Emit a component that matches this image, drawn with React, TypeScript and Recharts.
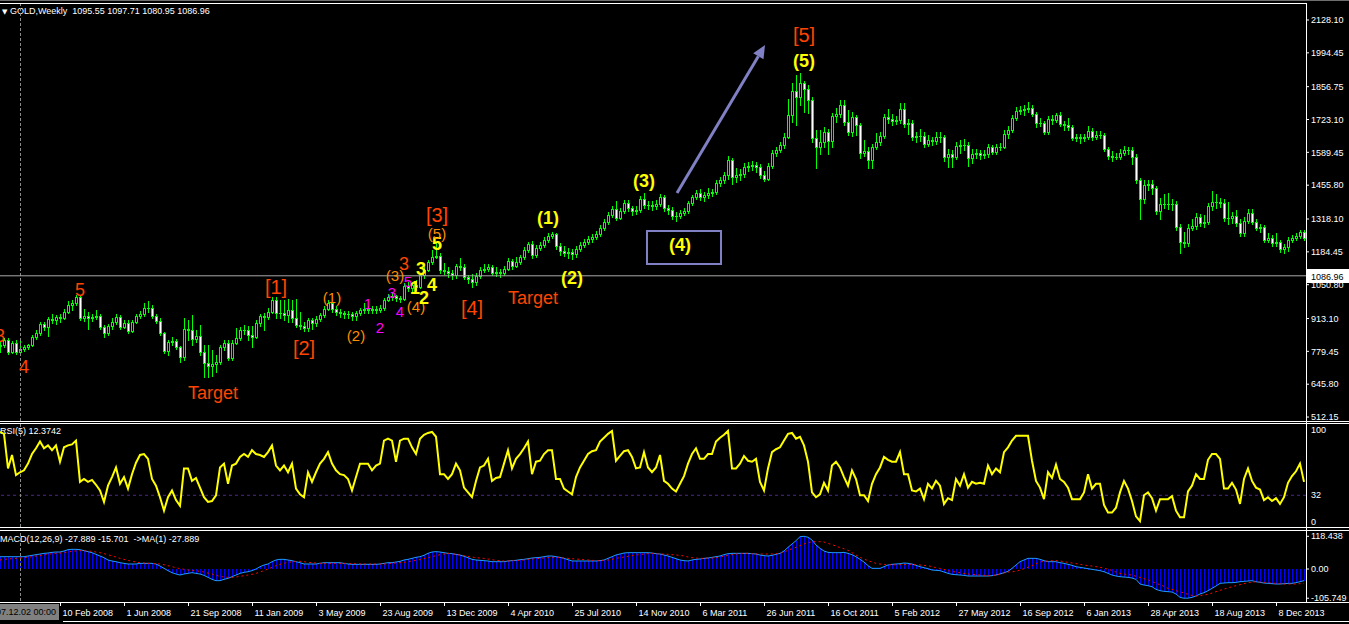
import { Bar, ComposedChart, Line, ReferenceArea, ReferenceDot, ReferenceLine, XAxis, YAxis } from "recharts";

const FONT = '"Liberation Sans", Arial, sans-serif';
const GREEN = '#00ff00';
const RED = '#ff4500';
const ORANGE = '#ff8c00';
const YELLOW = '#ffff00';
const MAGENTA = '#ff00ff';
const BOX = '#8080c4';

// weekly GOLD bars, first bar 2007-10-28
const firstOpen = 800;
const closes = [
  805, 826, 777, 813, 777, 789, 797, 805, 838, 854,
  891, 879, 911, 907, 919, 915, 940, 968, 976, 1001,
  915, 923, 915, 919, 923, 879, 854, 883, 899, 919,
  879, 895, 862, 899, 923, 932, 956, 956, 923, 903,
  854, 781, 818, 822, 797, 757, 870, 866, 830, 842,
  777, 732, 720, 728, 736, 797, 813, 752, 813, 834,
  866, 866, 846, 838, 895, 923, 919, 940, 989, 936,
  936, 927, 948, 915, 887, 883, 875, 907, 895, 911,
  927, 952, 976, 952, 940, 936, 932, 932, 923, 936,
  948, 952, 948, 952, 948, 956, 989, 1001, 1005, 997,
  993, 1045, 1037, 1050, 1041, 1090, 1111, 1143, 1164, 1168,
  1111, 1107, 1098, 1090, 1127, 1123, 1082, 1074, 1062, 1086,
  1111, 1115, 1123, 1098, 1102, 1098, 1115, 1147, 1127, 1143,
  1164, 1192, 1216, 1172, 1200, 1212, 1233, 1249, 1257, 1208,
  1188, 1180, 1184, 1176, 1196, 1212, 1225, 1237, 1245, 1257,
  1282, 1306, 1334, 1359, 1322, 1351, 1383, 1363, 1351, 1355,
  1400, 1375, 1375, 1371, 1379, 1408, 1363, 1355, 1330, 1330,
  1343, 1351, 1383, 1408, 1424, 1408, 1416, 1424, 1428, 1465,
  1477, 1497, 1558, 1489, 1497, 1501, 1530, 1534, 1538, 1530,
  1497, 1481, 1534, 1587, 1599, 1619, 1652, 1741, 1839, 1815,
  1872, 1847, 1802, 1648, 1611, 1632, 1672, 1636, 1737, 1746,
  1782, 1713, 1672, 1733, 1701, 1587, 1595, 1558, 1611, 1632,
  1656, 1733, 1725, 1717, 1721, 1766, 1705, 1709, 1652, 1656,
  1656, 1623, 1640, 1636, 1652, 1652, 1571, 1583, 1571, 1615,
  1619, 1619, 1566, 1583, 1587, 1579, 1583, 1611, 1591, 1611,
  1611, 1664, 1680, 1729, 1758, 1762, 1766, 1770, 1746, 1709,
  1709, 1672, 1725, 1721, 1741, 1705, 1701, 1693, 1648, 1652,
  1648, 1652, 1676, 1652, 1660, 1660, 1603, 1575, 1571, 1571,
  1587, 1599, 1599, 1571, 1477, 1400, 1457, 1461, 1444, 1351,
  1379, 1379, 1379, 1379, 1286, 1225, 1220, 1282, 1290, 1326,
  1302, 1306, 1371, 1387, 1387, 1383, 1322, 1322, 1330, 1302,
  1261, 1310, 1343, 1306, 1282, 1286, 1233, 1241, 1220, 1225,
  1196, 1204, 1233, 1241, 1249, 1265, 1241,
];
const highs = [
  818, 834, 834, 822, 826, 834, 805, 811, 846, 866,
  899, 899, 919, 932, 927, 932, 952, 985, 989, 1010,
  1010, 952, 940, 932, 948, 932, 887, 891, 915, 932,
  927, 907, 907, 907, 932, 944, 976, 985, 968, 932,
  915, 858, 826, 838, 830, 801, 915, 907, 927, 866,
  887, 805, 805, 785, 765, 805, 826, 826, 826, 875,
  879, 887, 883, 883, 907, 932, 936, 956, 1001, 1001,
  989, 989, 993, 989, 993, 940, 899, 915, 915, 923,
  936, 964, 989, 980, 964, 952, 944, 944, 940, 944,
  956, 976, 964, 964, 964, 968, 997, 1014, 1022, 1010,
  1005, 1058, 1062, 1062, 1070, 1098, 1123, 1152, 1192, 1226,
  1180, 1139, 1123, 1111, 1135, 1160, 1135, 1090, 1094, 1098,
  1123, 1135, 1135, 1131, 1123, 1115, 1127, 1160, 1156, 1164,
  1172, 1204, 1225, 1229, 1212, 1225, 1245, 1261, 1265, 1261,
  1220, 1208, 1200, 1196, 1208, 1225, 1237, 1249, 1257, 1269,
  1294, 1318, 1347, 1371, 1391, 1363, 1395, 1395, 1371, 1371,
  1412, 1424, 1391, 1391, 1395, 1420, 1416, 1375, 1367, 1347,
  1355, 1363, 1391, 1416, 1436, 1440, 1428, 1444, 1440, 1477,
  1489, 1509, 1575, 1566, 1526, 1522, 1546, 1550, 1554, 1550,
  1542, 1513, 1546, 1599, 1611, 1632, 1668, 1806, 1872, 1904,
  1912, 1880, 1864, 1815, 1680, 1680, 1693, 1685, 1750, 1770,
  1802, 1802, 1762, 1754, 1741, 1709, 1640, 1611, 1623, 1668,
  1672, 1745, 1766, 1745, 1737, 1790, 1790, 1725, 1721, 1672,
  1685, 1672, 1660, 1652, 1672, 1672, 1660, 1603, 1599, 1632,
  1640, 1644, 1632, 1603, 1603, 1599, 1599, 1623, 1619, 1623,
  1627, 1680, 1697, 1741, 1775, 1778, 1782, 1795, 1782, 1754,
  1729, 1717, 1737, 1741, 1750, 1754, 1717, 1729, 1701, 1664,
  1664, 1664, 1697, 1689, 1676, 1676, 1668, 1611, 1595, 1587,
  1603, 1615, 1611, 1611, 1583, 1485, 1477, 1477, 1477, 1453,
  1404, 1420, 1424, 1400, 1391, 1298, 1265, 1298, 1318, 1343,
  1338, 1334, 1383, 1433, 1420, 1404, 1400, 1387, 1347, 1355,
  1318, 1326, 1359, 1359, 1318, 1298, 1294, 1261, 1255, 1261,
  1233, 1216, 1245, 1255, 1261, 1273, 1273,
];
const lows = [
  775, 797, 770, 773, 770, 772, 781, 789, 801, 830,
  846, 866, 842, 895, 891, 899, 911, 936, 948, 968,
  907, 903, 870, 903, 911, 870, 838, 846, 870, 891,
  870, 875, 854, 858, 895, 915, 923, 940, 915, 895,
  846, 773, 765, 805, 789, 736, 744, 826, 805, 818,
  765, 675, 675, 679, 695, 728, 785, 744, 744, 809,
  826, 850, 826, 797, 834, 883, 866, 911, 936, 915,
  915, 907, 899, 899, 879, 870, 862, 862, 870, 883,
  903, 919, 948, 940, 927, 919, 915, 915, 907, 907,
  927, 936, 936, 936, 936, 940, 948, 985, 989, 985,
  980, 989, 1026, 1026, 1030, 1037, 1078, 1107, 1135, 1160,
  1098, 1094, 1082, 1074, 1078, 1111, 1074, 1058, 1041, 1050,
  1078, 1102, 1107, 1090, 1086, 1082, 1090, 1111, 1115, 1123,
  1135, 1156, 1184, 1160, 1164, 1192, 1204, 1225, 1241, 1196,
  1172, 1168, 1160, 1156, 1164, 1188, 1204, 1216, 1225, 1237,
  1249, 1273, 1298, 1326, 1314, 1318, 1343, 1351, 1334, 1338,
  1347, 1363, 1359, 1355, 1359, 1371, 1351, 1338, 1318, 1310,
  1322, 1334, 1343, 1375, 1400, 1395, 1391, 1404, 1412, 1420,
  1453, 1465, 1481, 1461, 1469, 1477, 1489, 1513, 1517, 1509,
  1485, 1473, 1477, 1526, 1575, 1591, 1607, 1648, 1713, 1701,
  1782, 1754, 1750, 1632, 1526, 1583, 1611, 1583, 1611, 1713,
  1733, 1701, 1660, 1656, 1660, 1566, 1575, 1526, 1526, 1603,
  1619, 1648, 1709, 1701, 1705, 1709, 1693, 1664, 1640, 1632,
  1636, 1611, 1615, 1619, 1623, 1632, 1554, 1530, 1530, 1562,
  1587, 1599, 1534, 1546, 1566, 1562, 1566, 1571, 1583, 1583,
  1599, 1607, 1648, 1672, 1721, 1746, 1741, 1754, 1737, 1693,
  1697, 1664, 1664, 1705, 1713, 1697, 1680, 1680, 1640, 1636,
  1627, 1636, 1644, 1640, 1644, 1648, 1595, 1562, 1554, 1562,
  1562, 1579, 1583, 1542, 1465, 1318, 1383, 1436, 1420, 1338,
  1318, 1363, 1359, 1355, 1273, 1180, 1204, 1208, 1273, 1278,
  1290, 1286, 1298, 1355, 1363, 1367, 1310, 1298, 1302, 1290,
  1249, 1249, 1302, 1298, 1273, 1265, 1225, 1225, 1208, 1208,
  1184, 1180, 1188, 1225, 1233, 1241, 1233,
];
const rsi5 = [
  98, 96, 60, 74, 53, 56, 58, 65, 75, 81,
  88, 81, 84, 79, 84, 67, 82, 84, 85, 89,
  46, 49, 46, 48, 43, 37, 25, 42, 51, 61,
  44, 51, 39, 54, 66, 74, 75, 70, 49, 42,
  30, 16, 30, 37, 27, 21, 60, 60, 47, 50,
  40, 30, 25, 26, 32, 61, 65, 44, 63, 65,
  72, 75, 72, 79, 75, 74, 72, 77, 84, 63,
  58, 63, 56, 65, 39, 33, 30, 56, 46, 56,
  65, 70, 77, 65, 58, 54, 53, 49, 37, 51,
  65, 65, 65, 58, 63, 65, 89, 91, 89, 67,
  89, 91, 91, 82, 75, 91, 95, 97, 98, 93,
  54, 54, 49, 54, 65, 58, 40, 35, 30, 47,
  61, 63, 70, 47, 50, 51, 65, 79, 60, 70,
  75, 81, 88, 54, 67, 68, 75, 79, 79, 49,
  49, 39, 36, 33, 51, 61, 68, 75, 78, 79,
  88, 92, 96, 99, 68, 73, 78, 79, 72, 60,
  61, 77, 61, 56, 61, 74, 47, 44, 39, 36,
  44, 52, 65, 75, 81, 70, 70, 75, 75, 88,
  92, 95, 99, 60, 60, 65, 73, 68, 67, 70,
  46, 37, 60, 77, 80, 82, 89, 96, 97, 91,
  93, 84, 67, 35, 30, 33, 45, 37, 63, 67,
  61, 51, 42, 58, 49, 32, 32, 26, 44, 54,
  61, 72, 69, 67, 67, 77, 54, 54, 37, 36,
  39, 28, 44, 39, 47, 42, 23, 29, 27, 49,
  42, 54, 40, 46, 44, 45, 44, 63, 54, 60,
  56, 77, 82, 89, 94, 94, 94, 94, 68, 47,
  40, 28, 56, 50, 64, 49, 46, 40, 28, 28,
  28, 35, 54, 39, 44, 44, 22, 14, 14, 19,
  35, 47, 39, 26, 10, 5, 32, 35, 29, 16,
  28, 28, 28, 31, 16, 9, 9, 36, 42, 54,
  49, 49, 69, 75, 75, 70, 39, 39, 45, 38,
  23, 49, 60, 47, 40, 38, 27, 30, 26, 29,
  23, 30, 45, 52, 57, 65, 46,
];
const macdMain = [
  44.6, 44.6, 44.6, 44.6, 44.6, 44.6, 44.6, 47.1, 49.5, 51.9,
  54.3, 56.7, 57.9, 60.3, 61.5, 61.5, 65.2, 70, 71.2, 71.2,
  70, 66.4, 62.8, 59.1, 53.1, 47.1, 41, 32.6, 29, 26.5,
  22.9, 20.5, 18.1, 18.1, 18.1, 20.5, 20.5, 20.5, 20.5, 18.1,
  10.9, 2.4, -6, -13.3, -18.1, -21.7, -18.1, -15.7, -13.3, -15.7,
  -18.1, -22.9, -30.2, -37.4, -42.2, -42.2, -37.4, -33.8, -27.8, -21.7,
  -15.7, -12.1, -9.7, -6, 0, 8.4, 14.5, 18.1, 26.5, 32.6,
  35, 35, 32.6, 30.2, 26.5, 22.9, 18.1, 18.1, 18.1, 18.1,
  20.5, 22.9, 22.9, 22.9, 22.9, 22.9, 20.5, 18.1, 16.9, 16.9,
  16.9, 16.9, 16.9, 16.9, 16.9, 18.1, 20.5, 22.9, 22.9, 25.3,
  27.8, 32.6, 35, 38.6, 42.2, 44.6, 49.5, 56.7, 61.5, 62.8,
  61.5, 59.1, 56.7, 55.5, 53.1, 50.7, 45.9, 41, 35, 32.6,
  31.4, 30.2, 29, 26.5, 26.5, 26.5, 26.5, 29, 30.2, 31.4,
  33.8, 35, 37.4, 39.8, 41, 42.2, 44.6, 47.1, 47.1, 44.6,
  42.2, 38.6, 33.8, 29, 29, 29, 29, 29, 29, 29,
  30.2, 32.6, 38.6, 44.6, 50.7, 54.3, 57.9, 59.1, 59.1, 59.1,
  59.1, 59.1, 59.1, 57.9, 55.5, 54.3, 50.7, 47.1, 42.2, 37.4,
  32.6, 30.2, 29, 32.6, 35, 36.2, 38.6, 39.8, 42.2, 44.6,
  47.1, 51.9, 55.5, 56.7, 56.7, 56.7, 56.7, 56.7, 55.5, 54.3,
  50.7, 48.3, 47.1, 49.5, 53.1, 56.7, 65.2, 78.4, 90.5, 102.6,
  117, 118.4, 115, 105, 86.9, 74.8, 65.2, 60.3, 59.1, 59.1,
  59.1, 60.3, 56.7, 51.9, 44.6, 35, 25.3, 12.1, 2.4, 2.4,
  2.4, 8.4, 14.5, 16.9, 18.1, 19.3, 21.7, 20.5, 18.1, 13.3,
  8.4, 4.8, 1.2, -3.6, -4.8, -6, -10.9, -15.7, -19.3, -20.5,
  -21.7, -22.9, -25.3, -25.3, -25.3, -25.3, -25.3, -25.3, -24.1, -21.7,
  -18.1, -13.3, -8.4, 2.4, 14.5, 26.5, 32.6, 38.6, 38.6, 38.6,
  35, 30.2, 26.5, 26.5, 26.5, 22.9, 20.5, 16.9, 13.3, 8.4,
  6, 3.6, 1.2, -1.2, -3.6, -6, -9.7, -15.7, -21.7, -25.3,
  -27.8, -29, -30.2, -32.6, -37.4, -54.3, -57.9, -60.3, -64, -73.6,
  -78.4, -80.8, -82, -83.3, -90.5, -102.6, -105.7, -105.5, -102.6, -97.7,
  -90.5, -85.7, -78.4, -70, -61.5, -51.9, -50.7, -49.5, -49.5, -48.3,
  -45.9, -44.6, -43.4, -42.2, -45.9, -48.3, -50.7, -51.9, -53.1, -54.3,
  -54.3, -53.1, -51.9, -51.9, -49.5, -45.9, -42.2,
];
const macdSignal = [
  32.6, 35, 36.2, 37.4, 38.6, 39.8, 41, 42.2, 44.6, 47.1,
  48.3, 50.7, 53.1, 55.5, 56.7, 57.9, 59.1, 61.5, 64, 65.2,
  66.4, 66.4, 65.2, 64, 61.5, 59.1, 55.5, 51.9, 47.1, 43.4,
  38.6, 35, 31.4, 27.8, 25.3, 22.9, 21.7, 20.5, 20.5, 19.3,
  18.1, 15.7, 12.1, 8.4, 4.8, 1.2, -1.2, -3.6, -4.8, -6,
  -8.4, -10.9, -14.5, -18.1, -22.9, -26.5, -29, -30.2, -30.2, -29,
  -26.5, -24.1, -21.7, -19.3, -15.7, -10.9, -6, 0, 6, 12.1,
  16.9, 20.5, 24.1, 26.5, 27.8, 27.8, 26.5, 24.1, 22.9, 21.7,
  20.5, 20.5, 20.5, 20.5, 20.5, 20.5, 20.5, 20.5, 19.3, 19.3,
  18.1, 18.1, 18.1, 18.1, 18.1, 18.1, 18.1, 19.3, 20.5, 21.7,
  22.9, 24.1, 26.5, 29, 31.4, 33.8, 37.4, 41, 44.6, 48.3,
  51.9, 54.3, 56.7, 55.5, 53.1, 50.7, 48.3, 45.9, 43.4, 41,
  39.8, 38.6, 36.2, 33.8, 31.4, 30.2, 29, 29, 30.2, 30.2,
  31.4, 32.6, 35, 36.2, 37.4, 38.6, 39.8, 41, 42.2, 42.2,
  41, 39.8, 38.6, 37.4, 36.2, 35, 33.8, 32.6, 31.4, 30.2,
  30.2, 31.4, 32.6, 35, 38.6, 41, 43.4, 45.9, 48.3, 50.7,
  51.9, 54.3, 55.5, 56.7, 55.5, 54.3, 54.3, 53.1, 51.9, 50.7,
  49.5, 47.1, 43.4, 41, 39.8, 38.6, 38.6, 39.8, 39.8, 41,
  43.4, 45.9, 49.5, 51.9, 54.3, 55.5, 56.7, 56.7, 55.5, 54.3,
  54.3, 54.3, 54.3, 54.3, 55.5, 56.7, 61.5, 67.6, 73.6, 78.4,
  84.5, 90.5, 95.3, 98.9, 98.9, 98.9, 97.7, 93, 88, 83.3,
  77.2, 73.6, 67.6, 59.1, 50.7, 42.2, 36.2, 30.2, 25.3, 20.5,
  18.1, 16.9, 15.7, 15.2, 15.2, 15.7, 16.3, 16.9, 16.9, 15.7,
  14.5, 13.3, 12.1, 8.4, 4.8, 2.4, -1.2, -6, -8.4, -10.9,
  -13.3, -15.7, -18.1, -19.3, -20.5, -21.7, -22.9, -24.1, -24.1, -21.7,
  -18.1, -14.5, -10.9, -9.7, -8.4, -3.6, 1.2, 6, 12.1, 19.3,
  25.3, 27.8, 29, 30.2, 30.2, 29, 26.5, 24.1, 21.7, 19.3,
  16.9, 14.5, 12.1, 10.9, 8.4, 6, 3.6, -1.2, -4.8, -10.9,
  -15.7, -18.1, -20.5, -21.7, -26.5, -30.2, -35, -38.6, -44.6, -51.9,
  -56.7, -62.8, -70, -73.6, -78.4, -82, -86.9, -91.7, -95.3, -97.7,
  -96.5, -94.1, -91.7, -86.9, -82, -77.2, -72.4, -68.8, -64, -60.3,
  -56.7, -53.1, -49.5, -48.3, -45.9, -47.1, -48.3, -49.5, -50.7, -51.9,
  -53.1, -54.3, -54.3, -54.3, -54.3, -53.1, -51.9,
];

const priceTicks = [512.15, 645.8, 779.45, 913.1, 1050.8, 1184.45, 1318.1, 1455.8, 1589.45, 1723.1, 1856.75, 1994.45, 2128.1];
const dateTicks = [15, 31, 47, 63, 79, 95, 111, 127, 143, 159, 175, 191, 207, 223, 239, 255, 271, 287, 303, 319];
const dateLabels = [
  '10 Feb 2008', '1 Jun 2008', '21 Sep 2008', '11 Jan 2009', '3 May 2009', '23 Aug 2009', '13 Dec 2009',
  '4 Apr 2010', '25 Jul 2010', '14 Nov 2010', '6 Mar 2011', '26 Jun 2011', '16 Oct 2011', '5 Feb 2012',
  '27 May 2012', '16 Sep 2012', '6 Jan 2013', '28 Apr 2013', '18 Aug 2013', '8 Dec 2013',
];
const bidPrice = 1086.96;
const crossBar = 5.125;

const waveLabels = [
  { i: 0, p: 842, text: '3', color: RED, size: 18 },
  { i: 6, p: 716, text: '4', color: RED, size: 18 },
  { i: 20, p: 1029, text: '5', color: RED, size: 18 },
  { i: 53.25, p: 610, text: 'Target', color: RED, size: 18 },
  { i: 69, p: 1041, text: '[1]', color: RED, size: 20 },
  { i: 76, p: 793, text: '[2]', color: RED, size: 20 },
  { i: 83, p: 997, text: '(1)', color: ORANGE, size: 15 },
  { i: 89, p: 846, text: '(2)', color: ORANGE, size: 15 },
  { i: 92, p: 976, text: '1', color: MAGENTA, size: 15 },
  { i: 95, p: 875, text: '2', color: MAGENTA, size: 15 },
  { i: 98, p: 1021, text: '3', color: MAGENTA, size: 15 },
  { i: 100, p: 940, text: '4', color: MAGENTA, size: 15 },
  { i: 102, p: 1062, text: '5', color: MAGENTA, size: 15 },
  { i: 98.75, p: 1090, text: '(3)', color: ORANGE, size: 15 },
  { i: 101, p: 1135, text: '3', color: RED, size: 18 },
  { i: 104, p: 960, text: '(4)', color: ORANGE, size: 15 },
  { i: 103.75, p: 1037, text: '1', color: YELLOW, size: 18, bold: true },
  { i: 106, p: 997, text: '2', color: YELLOW, size: 18, bold: true },
  { i: 105.25, p: 1115, text: '3', color: YELLOW, size: 18, bold: true },
  { i: 108, p: 1050, text: '4', color: YELLOW, size: 18, bold: true },
  { i: 109.25, p: 1216, text: '5', color: YELLOW, size: 18, bold: true },
  { i: 109.25, p: 1261, text: '(5)', color: ORANGE, size: 15 },
  { i: 109.25, p: 1334, text: '[3]', color: RED, size: 20 },
  { i: 118, p: 956, text: '[4]', color: RED, size: 20 },
  { i: 133.25, p: 997, text: 'Target', color: RED, size: 18 },
  { i: 137, p: 1322, text: '(1)', color: YELLOW, size: 18, bold: true },
  { i: 143, p: 1078, text: '(2)', color: YELLOW, size: 18, bold: true },
  { i: 161, p: 1473, text: '(3)', color: YELLOW, size: 18, bold: true },
  { i: 170, p: 1212, text: '(4)', color: YELLOW, size: 18, bold: true },
  { i: 201, p: 2067, text: '[5]', color: RED, size: 20 },
  { i: 201, p: 1961, text: '(5)', color: YELLOW, size: 18, bold: true },
];

const bars = closes.map((c, i) => {
  const o = i === 0 ? firstOpen : closes[i - 1];
  const h = Math.max(highs[i], o, c);
  const l = Math.min(lows[i], o, c);
  return { i, open: o, close: c, high: h, low: l, range: [l, h], rsi: rsi5[i], macd: macdMain[i], signal: macdSignal[i] };
});

const X_DOMAIN: [number, number] = [0, 326.5];

const Candle = (props: any) => {
  const { x, y, width, height, payload } = props;
  if (!payload || height == null || isNaN(y)) return <g />;
  const { open, close, high, low } = payload;
  const c = Math.round(x + width / 2);
  const py = (v: number) => (high === low ? y : y + ((high - v) / (high - low)) * height);
  const top = Math.round(py(Math.max(open, close)));
  const bot = Math.round(py(Math.min(open, close)));
  const bull = close >= open;
  return (
    <g>
      <line x1={c + 0.5} x2={c + 0.5} y1={Math.round(y)} y2={Math.round(y + height) + 1} stroke={GREEN} strokeWidth={1} />
      {bot - top < 1 ? (
        <line x1={c - 1} x2={c + 2} y1={top + 0.5} y2={top + 0.5} stroke={GREEN} strokeWidth={1} />
      ) : (
        <rect x={c - 0.5} y={top + 0.5} width={2} height={bot - top} fill={bull ? '#000' : '#fff'} stroke={GREEN} strokeWidth={1} />
      )}
    </g>
  );
};

const HistBar = (props: any) => {
  const { x, y, width, height } = props;
  if (height == null || isNaN(y)) return <g />;
  const c = Math.round(x + width / 2);
  const top = Math.round(Math.min(y, y + height));
  const h = Math.max(1, Math.round(Math.abs(height)));
  return <rect x={c} y={top} width={1} height={h} fill="#0000ff" />;
};

const Arrow = (props: any) => {
  const { x1, y1, x2, y2 } = props;
  const ang = Math.atan2(y2 - y1, x2 - x1);
  const L = 13, W = 6;
  const bx = x2 - L * Math.cos(ang), by = y2 - L * Math.sin(ang);
  const pts = [
    [x2, y2],
    [bx + W * Math.sin(ang), by - W * Math.cos(ang)],
    [bx - W * Math.sin(ang), by + W * Math.cos(ang)],
  ].map((p) => p.join(',')).join(' ');
  return (
    <g>
      <line x1={x1} y1={y1} x2={bx} y2={by} stroke={BOX} strokeWidth={3} />
      <polygon points={pts} fill={BOX} />
    </g>
  );
};

const BidLabel = (props: any) => {
  const vb = props.viewBox || {};
  const x = (vb.x || 0) + (vb.width || 0);
  const y = vb.y || 0;
  return (
    <g>
      <rect x={x + 1} y={Math.round(y) - 7} width={42} height={14} fill="#fff" />
      <text x={x + 5} y={Math.round(y) + 4} fill="#000" fontSize={9} fontFamily={FONT}>{bidPrice.toFixed(2)}</text>
    </g>
  );
};

const RsiTick = (props: any) => {
  const { x, y, payload } = props;
  const dy = payload.value === 0 ? -4 : 0;
  return (
    <text x={x} y={y + dy + 3} fill="#fff" fontSize={9} fontFamily={FONT} textAnchor="start">{payload.value}</text>
  );
};

const DateTick = (props: any) => {
  const { x, y, payload } = props;
  const k = dateTicks.indexOf(payload.value);
  if (k < 0) return <g />;
  const cx = Math.round(x) + 0.5;
  return (
    <g>
      <line x1={cx} x2={cx} y1={y + 1} y2={y + 5} stroke="#fff" />
      <text x={cx + 2} y={y + 15} fill="#fff" fontSize={9} fontFamily={FONT} textAnchor="start">{dateLabels[k]}</text>
    </g>
  );
};

const axisTick = { fill: '#fff', fontSize: 9, fontFamily: FONT };

function PriceChart() {
  return (
    <ComposedChart width={1349} height={421} data={bars} margin={{ top: 4, right: 0, bottom: 0, left: 0 }}>
      <XAxis type="number" dataKey="i" domain={X_DOMAIN} hide allowDataOverflow />
      <YAxis
        orientation="right"
        width={43}
        domain={[496.0, 2193.2]}
        ticks={priceTicks}
        interval={0}
        allowDataOverflow
        axisLine={false}
        tickLine={{ stroke: '#fff' }}
        tickSize={3}
        tickMargin={2}
        tick={axisTick}
        tickFormatter={(v: number) => v.toFixed(2)}
      />
      <ReferenceLine x={crossBar} stroke="#8c8c8c" strokeDasharray="3 2" />
      <ReferenceLine y={bidPrice} stroke="#a8a8a8" label={BidLabel} />
      <Bar dataKey="range" barSize={3} shape={Candle} isAnimationActive={false} />
      <ReferenceArea x1={161.75} x2={180.25} y1={1135} y2={1269} fill="none" stroke={BOX} strokeWidth={2} />
      <ReferenceLine segment={[{ x: 169.25, y: 1424 }, { x: 191.25, y: 2026 }]} shape={Arrow} />
      {waveLabels.map((w, k) => (
        <ReferenceDot
          key={k}
          x={w.i}
          y={w.p}
          r={0}
          shape={(pr: any) => (
            <text
              x={pr.cx}
              y={pr.cy}
              textAnchor="middle"
              dominantBaseline="central"
              fill={w.color}
              fontSize={w.size}
              fontWeight={w.bold ? 'bold' : 'normal'}
              fontFamily={FONT}
            >
              {w.text}
            </text>
          )}
        />
      ))}
    </ComposedChart>
  );
}

function RsiChart() {
  return (
    <ComposedChart width={1349} height={103} data={bars} margin={{ top: 0, right: 0, bottom: 0, left: 0 }}>
      <XAxis type="number" dataKey="i" domain={X_DOMAIN} hide allowDataOverflow />
      <YAxis
        orientation="right"
        width={43}
        domain={[-1.05, 106.3]}
        ticks={[0, 32, 100]}
        interval={0}
        allowDataOverflow
        axisLine={false}
        tickLine={false}
        tickSize={3}
        tickMargin={2}
        tick={RsiTick}
      />
      <ReferenceLine y={32} stroke="#4a2a86" strokeDasharray="3 3" />
      <ReferenceLine x={crossBar} stroke="#8c8c8c" strokeDasharray="3 2" />
      <Line type="linear" dataKey="rsi" stroke={YELLOW} strokeWidth={2} dot={false} isAnimationActive={false} />
    </ComposedChart>
  );
}

function MacdChart() {
  return (
    <ComposedChart width={1349} height={93} data={bars} margin={{ top: 0, right: 0, bottom: 0, left: 0 }}>
      <XAxis
        type="number"
        dataKey="i"
        domain={X_DOMAIN}
        ticks={dateTicks}
        interval={0}
        allowDataOverflow
        height={23}
        axisLine={false}
        tickLine={false}
        tickSize={0}
        tickMargin={0}
        tick={DateTick}
      />
      <YAxis
        orientation="right"
        width={43}
        domain={[-115.8, 137.6]}
        ticks={[-105.749, 0, 118.438]}
        interval={0}
        allowDataOverflow
        axisLine={false}
        tickLine={{ stroke: '#fff' }}
        tickSize={3}
        tickMargin={2}
        tick={axisTick}
        tickFormatter={(v: number) => (v === 0 ? '0.00' : String(v))}
      />
      <ReferenceLine x={crossBar} stroke="#8c8c8c" strokeDasharray="3 2" />
      <Bar dataKey="macd" barSize={1} shape={HistBar} isAnimationActive={false} />
      <Line type="linear" dataKey="macd" stroke="#1e9bff" strokeWidth={1} dot={false} isAnimationActive={false} />
      <Line type="linear" dataKey="signal" stroke="#ff0000" strokeWidth={1} strokeDasharray="2 3" dot={false} isAnimationActive={false} />
    </ComposedChart>
  );
}

const hLine = (top: number, left = 0, width = 1349, color = '#fff') => (
  <div style={{ position: 'absolute', top, left, width, height: 1, background: color }} />
);

const textStyle: React.CSSProperties = {
  position: 'absolute',
  color: '#fff',
  fontSize: 9,
  fontFamily: FONT,
  whiteSpace: 'pre',
  lineHeight: '11px',
};

export default function App() {
  return (
    <div style={{ position: 'fixed', left: 0, top: 0, width: 1349, height: 624, background: '#000', overflow: 'hidden' }}>
      <div style={{ ...textStyle, left: 2, top: 6 }}>
        <span style={{ fontFamily: '"DejaVu Sans"', fontSize: 7 }}>▼</span> GOLD,Weekly  1095.55 1097.71 1080.95 1086.96
      </div>
      <div style={{ ...textStyle, left: 0, top: 426 }}>RSI(5) 12.3742</div>
      <div style={{ ...textStyle, left: 0, top: 534 }}>MACD(12,26,9) -27.889 -15.701  -&gt;MA(1) -27.889</div>
      <div style={{ position: 'absolute', left: 0, top: 0 }}>
        <PriceChart />
      </div>
      <div style={{ position: 'absolute', left: 0, top: 424 }}>
        <RsiChart />
      </div>
      <div style={{ position: 'absolute', left: 0, top: 531 }}>
        <MacdChart />
      </div>
      {hLine(0, 0, 1349, '#6e6e6e')}
      {hLine(3, 0, 1307)}
      {hLine(421)}
      {hLine(423)}
      {hLine(527)}
      {hLine(530)}
      {hLine(602)}
      {hLine(621, 63, 1286)}
      <div style={{ position: 'absolute', left: 1306, top: 3, width: 1, height: 600, background: '#fff' }} />
      <div
        style={{
          ...textStyle,
          left: -17,
          top: 604,
          height: 16,
          lineHeight: '16px',
          padding: '0 3px',
          background: '#808080',
          color: '#000',
        }}
      >
        2007.12.02 00:00
      </div>
    </div>
  );
}
